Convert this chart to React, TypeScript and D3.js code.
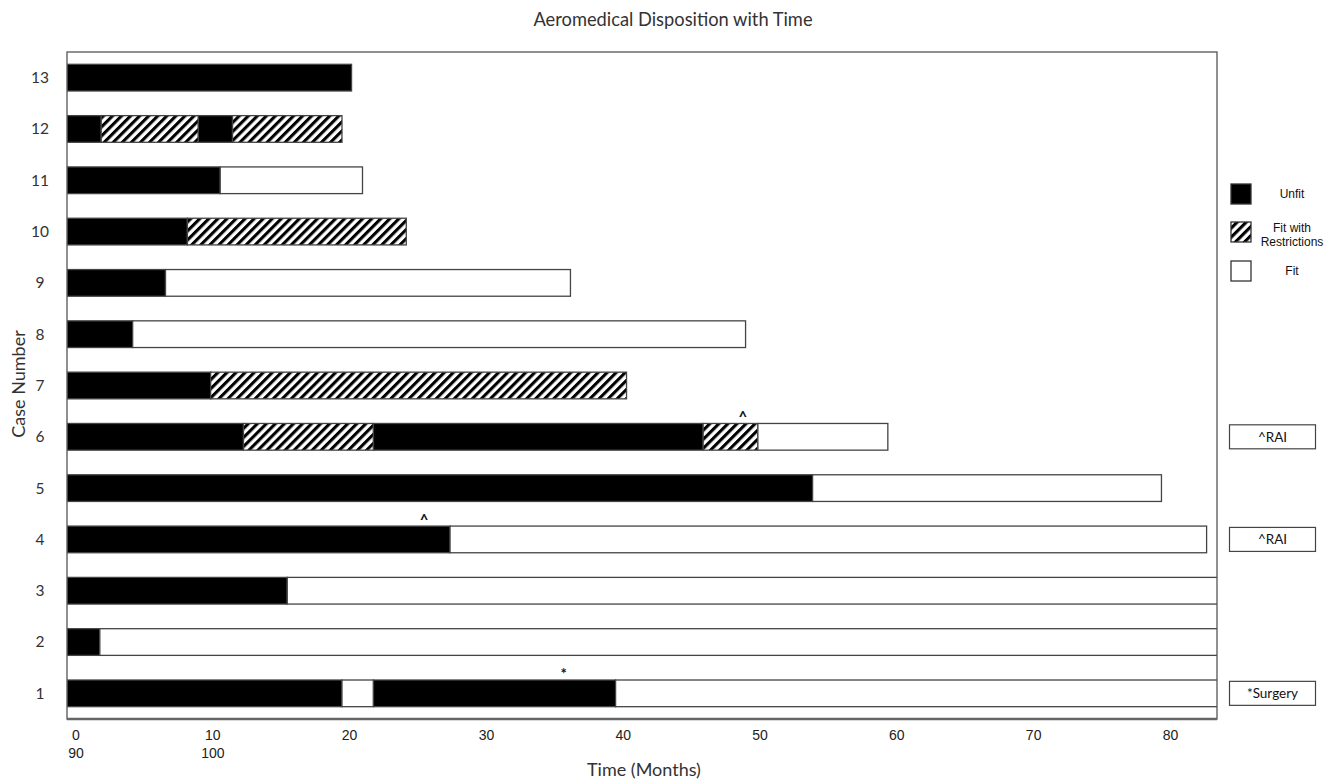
import React from "react";
import * as d3 from "d3";

const W = 1342;
const H = 781;

const caseNumbers = ["1", "2", "3", "4", "5", "6", "7", "8", "9", "10", "11", "12", "13"];
// cumulative end month of each segment, per case (case 1 first)
const segmentEnds: number[][] = [
  [20.1, 22.4, 40.1, 90],
  [2.4, 90],
  [16.1, 90],
  [28.0, 83.3],
  [54.5, 80.0],
  [12.9, 22.4, 46.5, 50.5, 60.0],
  [10.5, 40.9],
  [4.8, 49.6],
  [7.2, 36.8],
  [8.8, 24.8],
  [11.2, 21.6],
  [2.5, 9.6, 12.1, 20.1],
  [20.8],
];
const segmentTypes: string[][] = [
  ["Unfit", "Fit", "Unfit", "Fit"],
  ["Unfit", "Fit"],
  ["Unfit", "Fit"],
  ["Unfit", "Fit"],
  ["Unfit", "Fit"],
  ["Unfit", "Restricted", "Unfit", "Restricted", "Fit"],
  ["Unfit", "Restricted"],
  ["Unfit", "Fit"],
  ["Unfit", "Fit"],
  ["Unfit", "Restricted"],
  ["Unfit", "Fit"],
  ["Unfit", "Restricted", "Unfit", "Restricted"],
  ["Unfit"],
];
const xTicks = [0, 10, 20, 30, 40, 50, 60, 70, 80];
const xTicksSecondRow = ["90", "100"];
const markCases = ["6", "4", "1"];
const markMonths = [49.4, 26.1, 36.3];
const markSymbols = ["^", "^", "*"];
const noteCases = ["6", "4", "1"];
const noteLabels = ["^RAI", "^RAI", "*Surgery"];
const legendLabels = [["Unfit"], ["Fit with", "Restrictions"], ["Fit"]];
const legendTypes = ["Unfit", "Restricted", "Fit"];

const left = 67;
const right = 1217;
const top = 52;
const bottom = 719;

export default function App() {
  const x = d3.scaleLinear().domain([0, 84.06]).range([left, right]);
  const y = d3
    .scaleBand<string>()
    .domain([...caseNumbers].reverse())
    .range([top, bottom])
    .paddingInner(0.48)
    .paddingOuter(0.24);
  const bh = y.bandwidth();
  const fillFor = (t: string) =>
    t === "Unfit" ? "#000" : t === "Restricted" ? "url(#hatch)" : "#fff";

  return (
    <svg
      width={W}
      height={H}
      style={{ position: "absolute", left: 0, top: 0, background: "#fff" }}
    >
      <defs>
        <pattern
          id="hatch"
          patternUnits="userSpaceOnUse"
          width={6.4}
          height={6.4}
          patternTransform="rotate(45)"
        >
          <rect width={6.4} height={6.4} fill="#fff" />
          <rect width={3.1} height={6.4} fill="#000" />
        </pattern>
        <clipPath id="plotClip">
          <rect x={left} y={top} width={right - left} height={bottom - top} />
        </clipPath>
      </defs>

      <text
        x={673}
        y={26}
        textAnchor="middle"
        fontFamily="Lato, 'Open Sans', sans-serif"
        fontSize={18.3}
        fill="#333"
      >
        Aeromedical Disposition with Time
      </text>

      <g clipPath="url(#plotClip)">
        {caseNumbers.map((c, i) => {
          const ends = segmentEnds[i];
          const types = segmentTypes[i];
          return ends.map((e, j) => {
            const s = j === 0 ? 0 : ends[j - 1];
            return (
              <rect
                key={c + "-" + j}
                x={x(s)}
                y={y(c)!}
                width={x(e) - x(s)}
                height={bh}
                fill={fillFor(types[j])}
                stroke="#444"
                strokeWidth={1.3}
              />
            );
          });
        })}
      </g>

      {/* frame */}
      <rect
        x={left}
        y={top}
        width={right - left}
        height={bottom - top}
        fill="none"
        stroke="#555"
        strokeWidth={1.3}
      />
      <line x1={left} x2={right} y1={bottom} y2={bottom} stroke="#666" strokeWidth={2.5} />

      {/* y tick labels */}
      {caseNumbers.map((c) => (
        <text
          key={"yl" + c}
          x={40}
          y={y(c)! + bh / 2}
          dy="0.35em"
          textAnchor="middle"
          fontFamily="Lato, 'Open Sans', sans-serif"
          fontSize={15.5}
          fill="#333"
        >
          {c}
        </text>
      ))}
      <text
        transform={`translate(25, 384) rotate(-90)`}
        textAnchor="middle"
        fontFamily="Lato, 'Open Sans', sans-serif"
        fontSize={18}
        fill="#333"
      >
        Case Number
      </text>

      {/* x tick labels */}
      {xTicks.map((t) => (
        <text
          key={"xl" + t}
          x={x(t) + 9}
          y={740}
          textAnchor="middle"
          fontFamily="'Liberation Sans', Arial, sans-serif"
          fontSize={14}
          fill="#222"
        >
          {t}
        </text>
      ))}
      {xTicksSecondRow.map((t, i) => (
        <text
          key={"xl2" + t}
          x={x(xTicks[i]) + 9}
          y={758}
          textAnchor="middle"
          fontFamily="'Liberation Sans', Arial, sans-serif"
          fontSize={14}
          fill="#222"
        >
          {t}
        </text>
      ))}
      <text
        x={644}
        y={776}
        textAnchor="middle"
        fontFamily="Lato, 'Open Sans', sans-serif"
        fontSize={18}
        fill="#333"
      >
        Time (Months)
      </text>

      {/* markers above bars */}
      {markCases.map((c, i) => (
        <text
          key={"mk" + i}
          x={x(markMonths[i])}
          y={y(c)! - 1}
          textAnchor="middle"
          fontFamily="Lato, 'Open Sans', sans-serif"
          fontSize={15}
          fontWeight={700}
          fill="#111"
        >
          {markSymbols[i]}
        </text>
      ))}

      {/* notes on right */}
      {noteCases.map((c, i) => {
        const cy = y(c)! + bh / 2;
        return (
          <g key={"note" + i}>
            <rect
              x={1229.5}
              y={cy - 12}
              width={86}
              height={24}
              fill="#fff"
              stroke="#444"
              strokeWidth={1.2}
            />
            <text
              x={1272.5}
              y={cy}
              dy="0.35em"
              textAnchor="middle"
              fontFamily="Lato, 'Open Sans', sans-serif"
              fontSize={13.5}
              fill="#111"
            >
              {noteLabels[i]}
            </text>
          </g>
        );
      })}

      {/* legend */}
      {legendTypes.map((t, i) => {
        const sy = [184, 222, 261][i];
        const labels = legendLabels[i];
        return (
          <g key={"lg" + t}>
            <rect
              x={1231}
              y={sy}
              width={20}
              height={20}
              fill={fillFor(t)}
              stroke="#333"
              strokeWidth={1.3}
            />
            {labels.map((l, k) => (
              <text
                key={l}
                x={1292}
                y={sy + 10 + (labels.length === 2 ? (k === 0 ? -4 : 10) : 0)}
                dy="0.35em"
                textAnchor="middle"
                fontFamily="'Liberation Sans', Arial, sans-serif"
                fontSize={12}
                fill="#111"
              >
                {l}
              </text>
            ))}
          </g>
        );
      })}
    </svg>
  );
}
